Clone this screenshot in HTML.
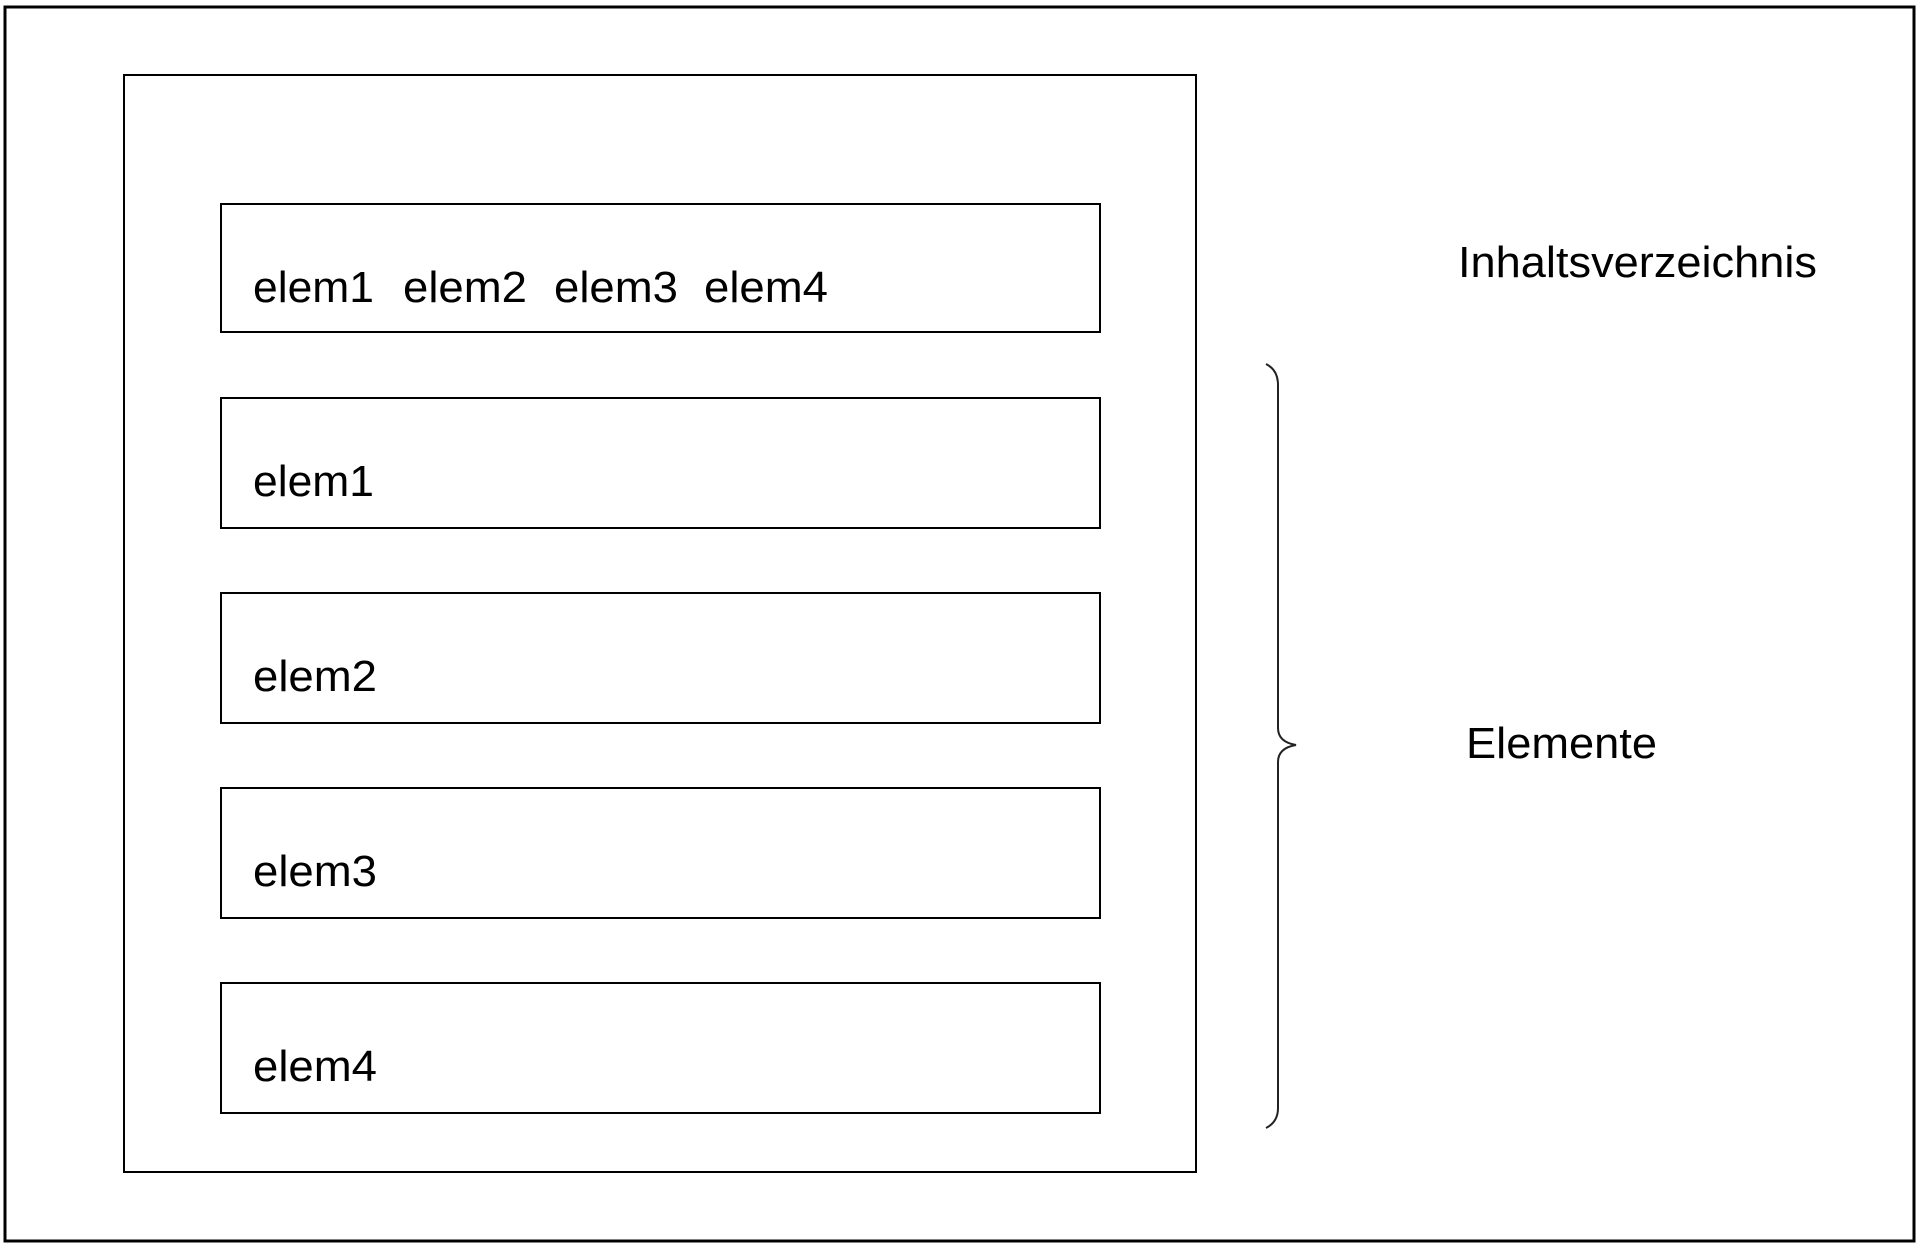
<!DOCTYPE html>
<html><head><style>
html,body{margin:0;padding:0;background:#fff;}
svg{display:block;}
text{font-family:"Liberation Sans",Arial,sans-serif;font-size:44px;fill:#000;}
</style></head><body>
<svg width="1922" height="1247" viewBox="0 0 1922 1247" xmlns="http://www.w3.org/2000/svg">
<rect x="5" y="7" width="1909" height="1234" fill="none" stroke="#000" stroke-width="3"/>
<rect x="124" y="75" width="1072" height="1097" fill="none" stroke="#000" stroke-width="2"/>
<rect x="221" y="204" width="879" height="128" fill="none" stroke="#000" stroke-width="2"/>
<rect x="221" y="398" width="879" height="130" fill="none" stroke="#000" stroke-width="2"/>
<rect x="221" y="593" width="879" height="130" fill="none" stroke="#000" stroke-width="2"/>
<rect x="221" y="788" width="879" height="130" fill="none" stroke="#000" stroke-width="2"/>
<rect x="221" y="983" width="879" height="130" fill="none" stroke="#000" stroke-width="2"/>
<text x="253" y="302" textLength="121" lengthAdjust="spacingAndGlyphs">elem1</text>
<text x="403" y="302" textLength="124" lengthAdjust="spacingAndGlyphs">elem2</text>
<text x="554" y="302" textLength="124" lengthAdjust="spacingAndGlyphs">elem3</text>
<text x="704" y="302" textLength="124" lengthAdjust="spacingAndGlyphs">elem4</text>
<text x="253" y="496" textLength="121" lengthAdjust="spacingAndGlyphs">elem1</text>
<text x="253" y="691" textLength="124" lengthAdjust="spacingAndGlyphs">elem2</text>
<text x="253" y="886" textLength="124" lengthAdjust="spacingAndGlyphs">elem3</text>
<text x="253" y="1081" textLength="124" lengthAdjust="spacingAndGlyphs">elem4</text>
<path d="M1266 364 Q1278 370 1278 385 L1278 728 Q1278 742 1296 745 Q1278 748 1278 762 L1278 1108 Q1278 1122 1266 1128" fill="none" stroke="#222" stroke-width="2"/>
<text x="1458" y="277" textLength="359" lengthAdjust="spacingAndGlyphs">Inhaltsverzeichnis</text>
<text x="1466" y="758" textLength="191" lengthAdjust="spacingAndGlyphs">Elemente</text>
</svg>
</body></html>
